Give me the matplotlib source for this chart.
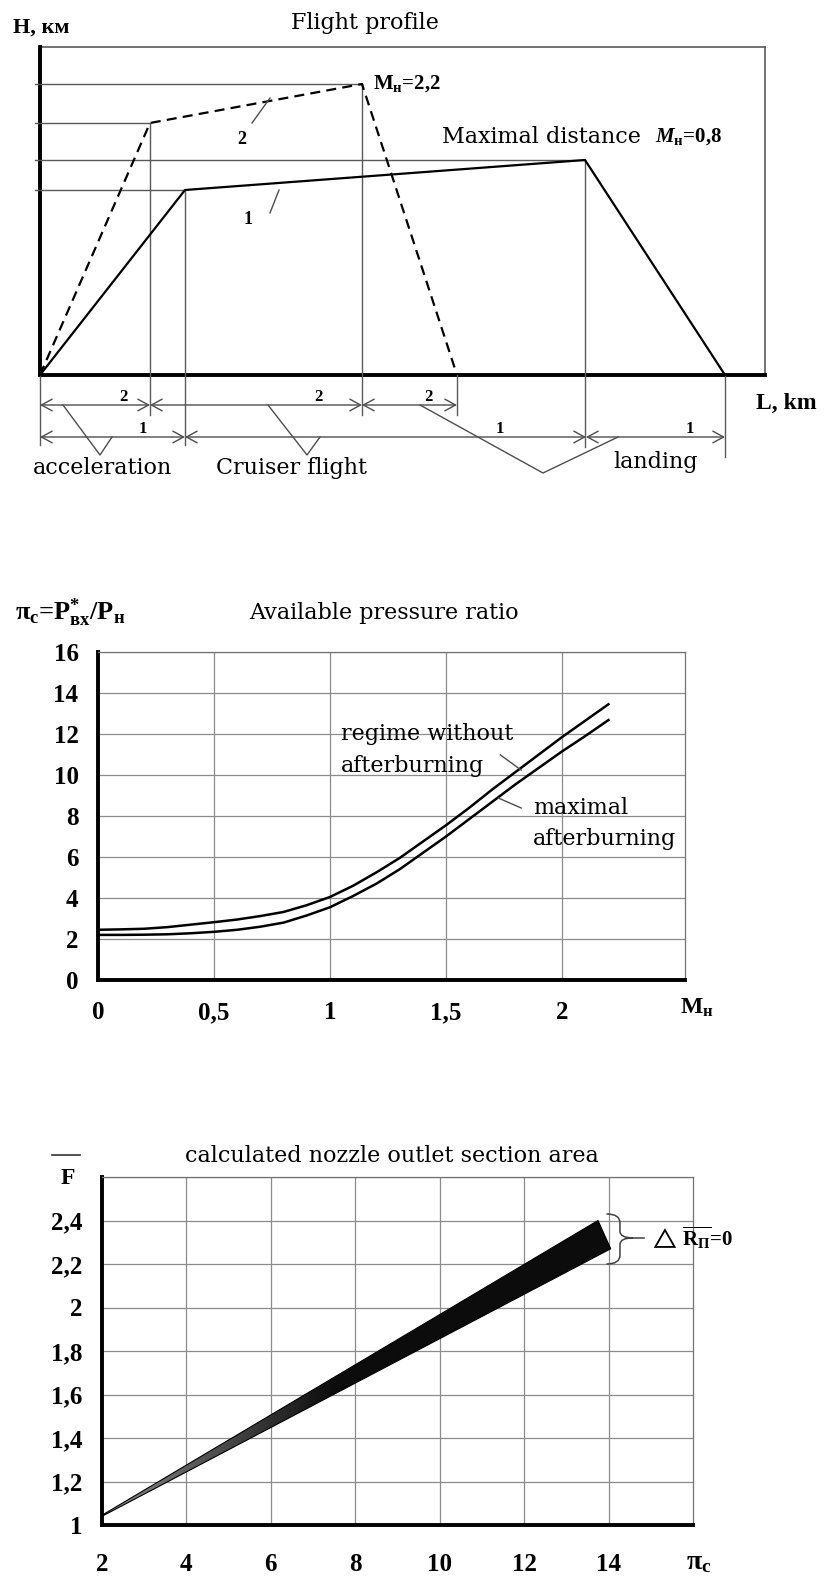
import matplotlib
matplotlib.use("Agg")
import matplotlib.pyplot as plt
import numpy as np
from matplotlib.path import Path
from matplotlib.patches import PathPatch, Polygon

plt.rcParams['font.family'] = ['Liberation Serif', 'DejaVu Serif']
plt.rcParams['mathtext.fontset'] = 'custom'
plt.rcParams['mathtext.rm'] = 'Liberation Serif'
plt.rcParams['mathtext.it'] = 'Liberation Serif:bold:italic'
plt.rcParams['mathtext.bf'] = 'Liberation Serif:bold'
plt.rcParams['mathtext.default'] = 'bf'

SERIF_WIDE = ['DejaVu Serif']
TXT = 16

# ---------------- data ----------------
# Flight profile (schematic units)
prof1_L = [0, 145, 545, 685]
prof1_H = [0, 185, 215, 0]
prof2_L = [0, 110, 322, 417]
prof2_H = [0, 252, 291, 0]
box_L = 725
box_H = 328
# dimension rows
row2_bounds = [0, 110, 322, 417]
row2_labels = ["2", "2", "2"]
row2_label_L = [83, 278, 388]
row1_bounds = [0, 145, 546, 685]
row1_labels = ["1", "1", "1"]
row1_label_L = [103, 460, 650]
phase_names = ["acceleration", "Cruiser flight", "landing"]

# Available pressure ratio
mach = [0, 0.1, 0.2, 0.3, 0.4, 0.5, 0.6, 0.7, 0.8, 0.9, 1.0, 1.1, 1.2, 1.3, 1.4,
        1.5, 1.6, 1.7, 1.8, 1.9, 2.0, 2.1, 2.2]
pi_no_ab = [2.45, 2.47, 2.5, 2.58, 2.7, 2.82, 2.95, 3.12, 3.32, 3.65, 4.05, 4.6, 5.25,
            5.95, 6.75, 7.55, 8.4, 9.3, 10.15, 11.0, 11.85, 12.65, 13.45]
pi_max_ab = [2.2, 2.2, 2.21, 2.23, 2.28, 2.35, 2.45, 2.6, 2.8, 3.15, 3.55, 4.1, 4.7,
             5.4, 6.2, 7.0, 7.85, 8.7, 9.55, 10.35, 11.15, 11.9, 12.68]
mach_ticks = [0, 0.5, 1, 1.5, 2]
mach_ticklabels = ["0", "0,5", "1", "1,5", "2"]
pi_ticks = [0, 2, 4, 6, 8, 10, 12, 14, 16]

# Nozzle outlet section area band
band_up_pi = [2, 13.75]
band_up_F = [1.045, 2.40]
band_lo_pi = [2, 14.05]
band_lo_F = [1.04, 2.27]
pic_ticks = [2, 4, 6, 8, 10, 12, 14]
F_ticks = [1, 1.2, 1.4, 1.6, 1.8, 2, 2.2, 2.4]
F_ticklabels = ["1", "1,2", "1,4", "1,6", "1,8", "2", "2,2", "2,4"]

# ---------------- figure ----------------
W, H = 832, 1579
fig = plt.figure(figsize=(W / 100, H / 100), dpi=100)


def rect(x0, y0, x1, y1):
    return [x0 / W, 1 - y1 / H, (x1 - x0) / W, (y1 - y0) / H]


def ftext(px, py, s, **kw):
    fig.text(px / W, 1 - py / H, s, **kw)


# ================= Panel 1: flight profile =================
ax1 = fig.add_axes(rect(40, 47, 765, 375))
ax1.set_xlim(0, box_L)
ax1.set_ylim(0, box_H)
ax1.axis('off')

kw_clip = dict(clip_on=False)
ax1.plot([0, box_L], [box_H, box_H], color='0.35', lw=1.2, **kw_clip)
ax1.plot([box_L, box_L], [box_H, 0], color='0.35', lw=1.2, **kw_clip)
ax1.plot([0, 0], [box_H, 0], color='black', lw=2.8, **kw_clip)
ax1.plot([0, box_L], [0, 0], color='black', lw=2.8, **kw_clip)

for Lp, Hp in zip(prof1_L[1:3] + prof2_L[1:3], prof1_H[1:3] + prof2_H[1:3]):
    ax1.plot([-5, Lp], [Hp, Hp], color='0.35', lw=1.0, **kw_clip)

row2_H = -30
row1_H = -62
ext = [(prof2_L[1], prof2_H[1], row2_H - 10),
       (prof2_L[2], prof2_H[2], row2_H - 10),
       (prof2_L[3], 0, row2_H - 10),
       (prof1_L[1], prof1_H[1], row1_H - 8),
       (prof1_L[2], prof1_H[2], row1_H - 10),
       (prof1_L[3], 0, row1_H - 20),
       (0, 0, row1_H - 8)]
for Lp, top, bot in ext:
    ax1.plot([Lp, Lp], [top, bot], color='0.35', lw=1.0, **kw_clip)

ax1.plot(prof1_L, prof1_H, color='black', lw=1.6, **kw_clip)
ax1.plot(prof2_L, prof2_H, color='black', lw=1.6, ls=(0, (4.5, 2.8)), **kw_clip)

arrow_kw = dict(arrowstyle='<->,head_length=0.55,head_width=0.3', color='0.3', lw=1.0,
                shrinkA=0, shrinkB=0, mutation_scale=14)
for bounds, labels, lab_L, hrow in [(row2_bounds, row2_labels, row2_label_L, row2_H),
                                     (row1_bounds, row1_labels, row1_label_L, row1_H)]:
    for i in range(len(bounds) - 1):
        ax1.annotate('', xy=(bounds[i + 1], hrow), xytext=(bounds[i], hrow),
                     arrowprops=arrow_kw, annotation_clip=False)
        ax1.text(lab_L[i], hrow + 8, labels[i], ha='center', va='center',
                 fontsize=12, fontweight='bold', **kw_clip)

vlines = [([23, 60, 72], [row2_H, -80, row1_H]),
          ([228, 267, 280], [row2_H, -80, row1_H]),
          ([380, 503, 578], [row2_H, -98, row1_H])]
for xs, ys in vlines:
    ax1.plot(xs, ys, color='0.3', lw=1.0, **kw_clip)

ax1.text(63, -93, phase_names[0], ha='center', va='center', fontsize=TXT,
         family=SERIF_WIDE, **kw_clip)
ax1.text(252, -93, phase_names[1], ha='center', va='center', fontsize=TXT,
         family=SERIF_WIDE, **kw_clip)
ax1.text(616, -87, phase_names[2], ha='center', va='center', fontsize=TXT,
         family=SERIF_WIDE, **kw_clip)

ax1.text(202, 235, "2", ha='center', va='center', fontsize=13, fontweight='bold')
ax1.plot([212, 230], [252, 277], color='0.3', lw=1.0)
ax1.text(208, 155, "1", ha='center', va='center', fontsize=13, fontweight='bold')
ax1.plot([230, 239], [162, 185], color='0.3', lw=1.0)

ax1.text(prof2_L[2] + 11, prof2_H[2], r'M$_{н}$=2,2', ha='left', va='center',
         fontsize=15, fontweight='bold', **kw_clip)
ax1.text(402, 238, "Maximal distance", ha='left', va='center', fontsize=TXT,
         family=SERIF_WIDE)
ax1.text(615, 238, r'$\mathit{M}_{н}$=0,8', ha='left', va='center', fontsize=15,
         fontweight='bold')

ftext(365, 23, "Flight profile", ha='center', va='center', fontsize=TXT, family=SERIF_WIDE)
ftext(13, 28, "H, км", ha='left', va='center', fontsize=16, fontweight='bold')
ftext(756, 403, "L, km", ha='left', va='center', fontsize=17, fontweight='bold')

# ================= Panel 2: available pressure ratio =================
ax2 = fig.add_axes(rect(98, 652, 685, 980))
ax2.set_xlim(0, 2.53)
ax2.set_ylim(0, 16)
ax2.plot(mach, pi_no_ab, color='black', lw=1.8)
ax2.plot(mach, pi_max_ab, color='black', lw=1.8)
ax2.set_xticks(mach_ticks)
ax2.set_xticklabels(mach_ticklabels)
ax2.set_yticks(pi_ticks)
ax2.grid(True, color='0.55', lw=0.9)
ax2.set_axisbelow(True)
ax2.tick_params(length=0, labelsize=18)
ax2.tick_params(axis='y', pad=14)
ax2.tick_params(axis='x', pad=15)
for lab in ax2.get_xticklabels() + ax2.get_yticklabels():
    lab.set_fontweight('bold')
for s in ['left', 'bottom']:
    ax2.spines[s].set_linewidth(2.8)
    ax2.spines[s].set_color('black')
for s in ['top', 'right']:
    ax2.spines[s].set_linewidth(0.9)
    ax2.spines[s].set_color('0.45')

ax2.text(1.047, 11.22, "regime without\nafterburning", ha='left', va='center',
         fontsize=TXT, linespacing=1.55, family=SERIF_WIDE)
ax2.plot([1.734, 1.824], [10.98, 10.24], color='0.3', lw=1.0)
ax2.text(1.876, 7.63, "maximal\nafterburning", ha='left', va='center',
         fontsize=TXT, linespacing=1.5, family=SERIF_WIDE)
ax2.plot([1.725, 1.824], [8.88, 8.39], color='0.3', lw=1.0)

ftext(384, 613, "Available pressure ratio", ha='center', va='center', fontsize=TXT,
      family=SERIF_WIDE)
ftext(15, 613, r'$π_{c}$=P$^{*}_{вх}$/P$_{н}$', ha='left', va='center', fontsize=19,
      fontweight='bold')
ftext(680, 1008, r'M$_{н}$', ha='left', va='center', fontsize=17, fontweight='bold')

# ================= Panel 3: nozzle outlet area =================
ax3 = fig.add_axes(rect(102, 1177, 693, 1525))
ax3.set_xlim(2, 16)
ax3.set_ylim(1, 2.6)
poly_x = list(band_up_pi) + list(band_lo_pi[::-1])
poly_y = list(band_up_F) + list(band_lo_F[::-1])
band = Polygon(np.column_stack([poly_x, poly_y]), closed=True, fc='none', ec='black',
               lw=0.8, zorder=4)
ax3.add_patch(band)
# shading: lighter near the origin of the band, dark further on
shade_x = np.linspace(0, 1, 200)
shade = np.clip(0.55 - 0.5 * np.clip(shade_x * 2.2, 0, 1), 0.05, 1)
img = ax3.imshow(shade[np.newaxis, :], cmap='gray', vmin=0, vmax=1, aspect='auto',
                 extent=(min(poly_x), max(poly_x), min(poly_y), max(poly_y)),
                 zorder=3, interpolation='bilinear')
img.set_clip_path(band)
ax3.set_xlim(2, 16)
ax3.set_ylim(1, 2.6)
ax3.set_xticks(pic_ticks)
ax3.set_yticks(F_ticks)
ax3.set_yticklabels(F_ticklabels)
ax3.set_yticks([2.6], minor=True)
ax3.grid(True, which='both', color='0.55', lw=0.9)
ax3.set_axisbelow(True)
ax3.tick_params(which='both', length=0, labelsize=18)
ax3.tick_params(axis='y', pad=14)
ax3.tick_params(axis='x', pad=20)
for lab in ax3.get_xticklabels() + ax3.get_yticklabels():
    lab.set_fontweight('bold')
for s in ['left', 'bottom']:
    ax3.spines[s].set_linewidth(2.8)
    ax3.spines[s].set_color('black')
for s in ['top', 'right']:
    ax3.spines[s].set_linewidth(0.9)
    ax3.spines[s].set_color('0.45')

# brace "}" marking the band end
bx0, bxm, btip = 13.95, 14.27, 14.58
by_top, by_mid, by_bot = 2.43, 2.32, 2.20
verts = [(bx0, by_top), (bxm, by_top), (bxm, by_top - 0.04), (bxm, by_mid + 0.03),
         (bxm, by_mid), (btip, by_mid),
         (btip, by_mid), (bxm, by_mid), (bxm, by_mid - 0.03), (bxm, by_bot + 0.04),
         (bxm, by_bot), (bx0, by_bot)]
codes = [Path.MOVETO, Path.CURVE3, Path.CURVE3, Path.LINETO, Path.CURVE3, Path.CURVE3,
         Path.MOVETO, Path.CURVE3, Path.CURVE3, Path.LINETO, Path.CURVE3, Path.CURVE3]
ax3.add_patch(PathPatch(Path(verts, codes), fc='none', ec='0.25', lw=1.1, clip_on=False))
ax3.plot([btip, 14.85], [by_mid, by_mid], color='0.25', lw=1.1, clip_on=False)
ax3.text(14.95, 2.32, r'$\triangle\,\overline{R_{П}}$=0', ha='left',
         va='center', fontsize=15, fontweight='bold', clip_on=False)

ftext(392, 1156, "calculated nozzle outlet section area", ha='center', va='center',
      fontsize=TXT, family=SERIF_WIDE)
ftext(68, 1178, "F", ha='center', va='center', fontsize=17, fontweight='bold')
fig.add_artist(plt.Line2D([52 / W, 80 / W], [1 - 1155 / H, 1 - 1155 / H], color='0.2', lw=1.2))
ftext(686, 1563, r'$π_{c}$', ha='left', va='center', fontsize=20)

fig.savefig("out.png", dpi=100)
